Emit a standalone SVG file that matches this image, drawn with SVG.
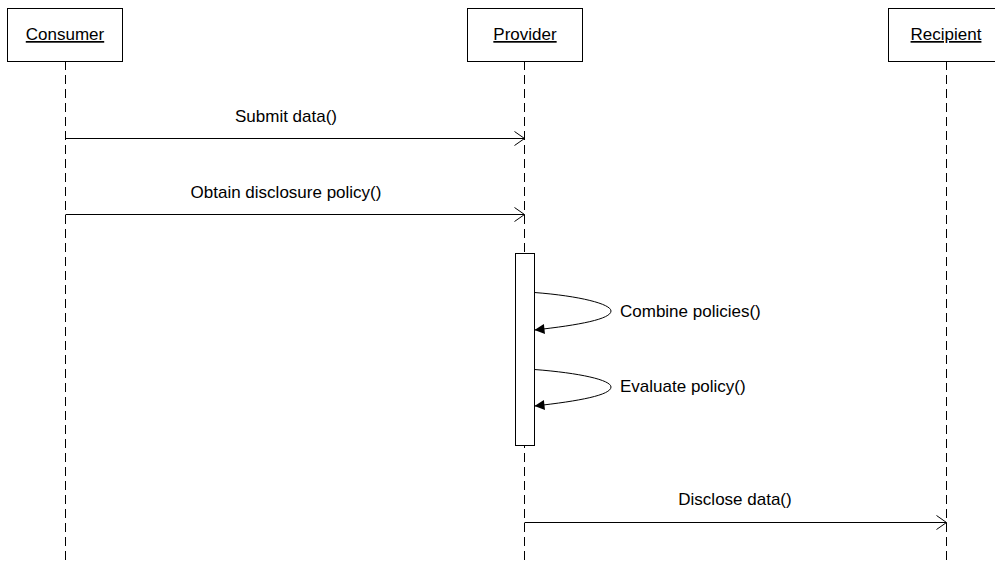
<svg xmlns="http://www.w3.org/2000/svg" width="995" height="561" viewBox="0 0 995 561">
  <style>
    .box { fill: #ffffff; stroke: #000000; stroke-width: 1; }
    .life { stroke: #000000; stroke-width: 1; stroke-dasharray: 9 5; fill: none; }
    .msg { stroke: #000000; stroke-width: 1; fill: none; }
    .lbl { font-family: "Liberation Sans", Arial, sans-serif; font-size: 17px; fill: #000000; }
    .name { text-anchor: middle; text-decoration: underline; }
  </style>
  <defs>
    <marker id="open" markerWidth="12" markerHeight="16" refX="11" refY="8" orient="auto" markerUnits="userSpaceOnUse">
      <path d="M1,1 L11,8 L1,15" fill="none" stroke="#000000" stroke-width="1"/>
    </marker>
    <marker id="solid" markerWidth="12" markerHeight="12" refX="11" refY="6" orient="auto" markerUnits="userSpaceOnUse">
      <path d="M1,1 L11,6 L1,11 Z" fill="#000000" stroke="none"/>
    </marker>
  </defs>

  <rect width="995" height="561" fill="#ffffff"/>

  <!-- lifelines -->
  <g id="lifelines">
    <line class="life" x1="65.5" y1="61" x2="65.5" y2="561"/>
    <line class="life" x1="524.5" y1="61" x2="524.5" y2="561"/>
    <line class="life" x1="946.5" y1="61" x2="946.5" y2="561"/>
  </g>

  <g id="consumer">
    <rect class="box" x="7.5" y="8.5" width="115" height="53"/>
    <text class="lbl name" x="65" y="40">Consumer</text>
  </g>
  <g id="provider">
    <rect class="box" x="467.5" y="8.5" width="115" height="53"/>
    <text class="lbl name" x="525" y="40">Provider</text>
  </g>
  <g id="recipient">
    <rect class="box" x="888.5" y="8.5" width="115" height="53"/>
    <text class="lbl name" x="946" y="40">Recipient</text>
  </g>

  <g id="activation">
    <rect class="box" x="515.5" y="253.5" width="19" height="192"/>
  </g>

  <!-- messages -->
  <g id="connectors">
    <line class="msg" x1="65.5" y1="138.5" x2="524.5" y2="138.5" marker-end="url(#open)"/>
    <line class="msg" x1="65.5" y1="214.5" x2="524.5" y2="214.5" marker-end="url(#open)"/>
    <path class="msg" d="M534.5,292.5 C580,296 611,304 611,311 C611,319 580,325 534.5,330" marker-end="url(#solid)"/>
    <path class="msg" d="M534.5,369.5 C580,373 611,380 611,387 C611,395 580,401 534.5,406" marker-end="url(#solid)"/>
    <line class="msg" x1="524.5" y1="522.5" x2="946.5" y2="522.5" marker-end="url(#open)"/>
  </g>

  <g id="labels">
    <text class="lbl" x="286" y="122" text-anchor="middle">Submit data()</text>
    <text class="lbl" x="286" y="198" text-anchor="middle">Obtain disclosure policy()</text>
    <text class="lbl" x="620" y="317">Combine policies()</text>
    <text class="lbl" x="620" y="392">Evaluate policy()</text>
    <text class="lbl" x="735" y="505" text-anchor="middle">Disclose data()</text>
  </g>
</svg>
